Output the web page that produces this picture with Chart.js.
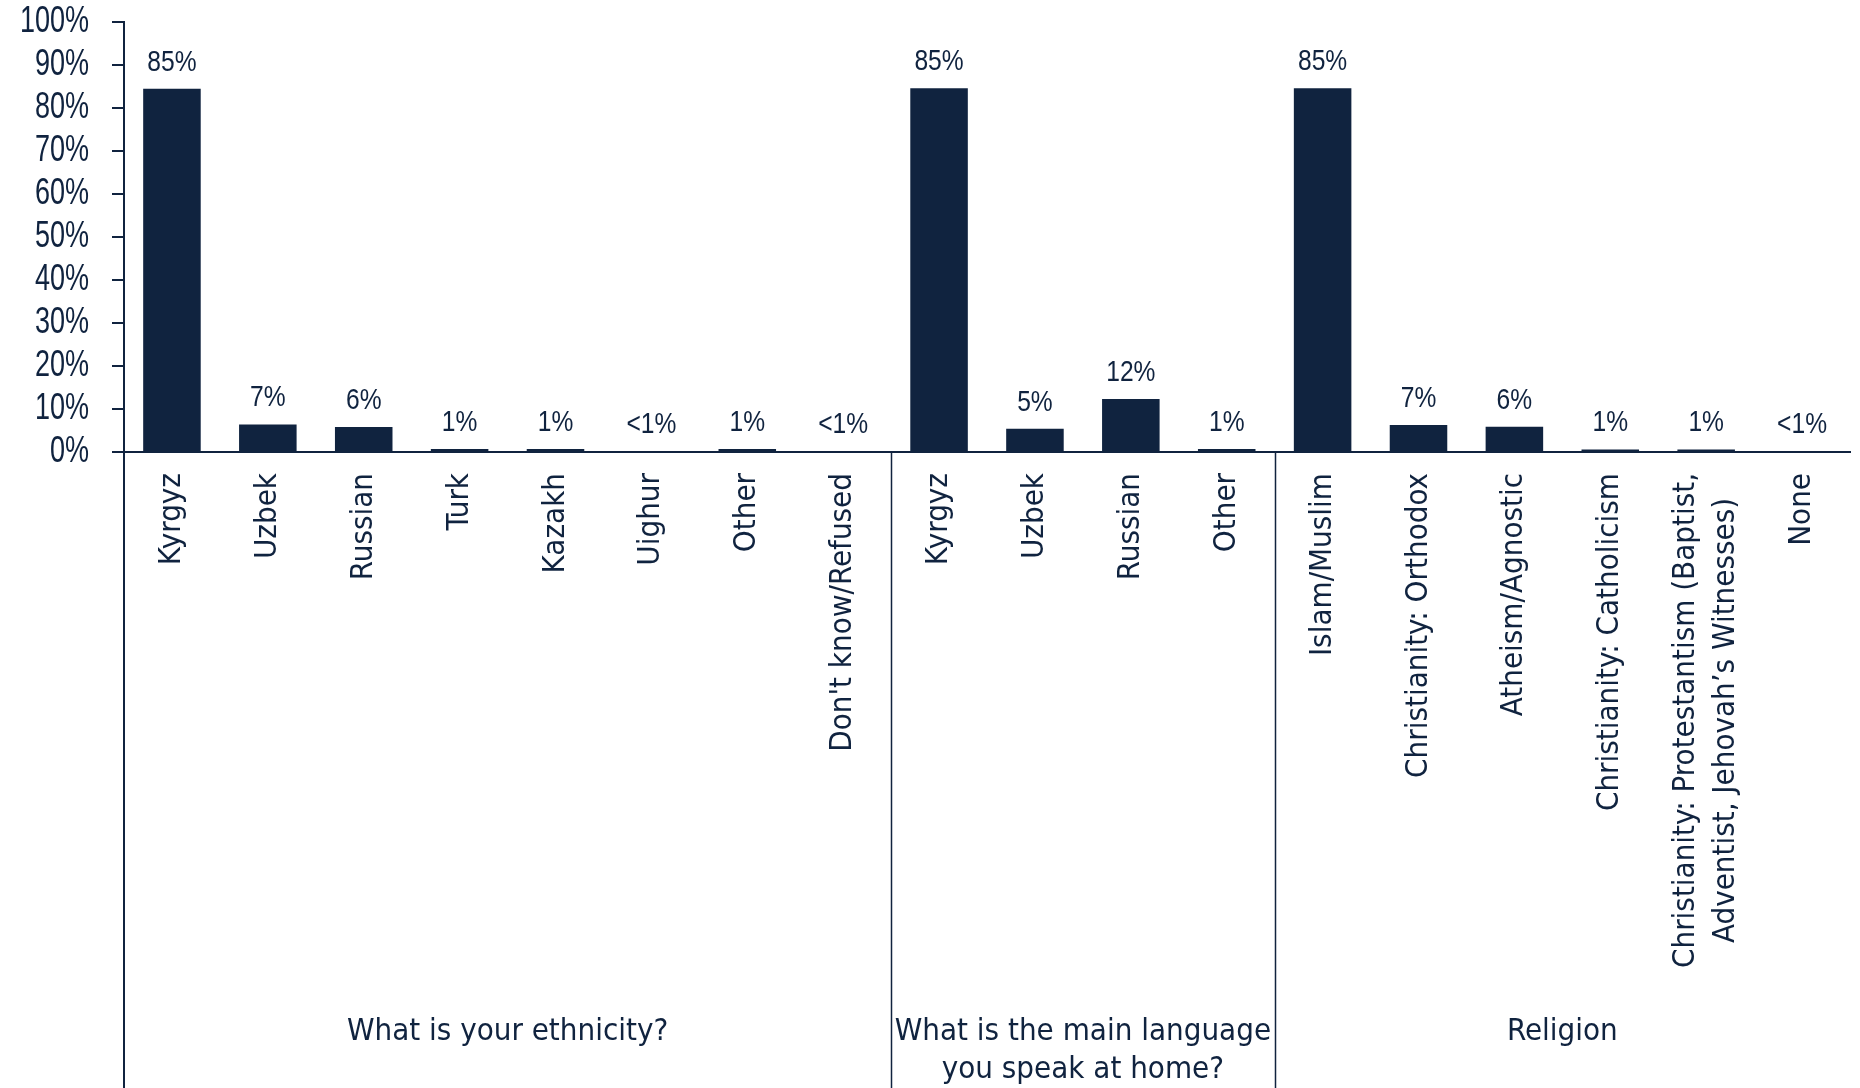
<!DOCTYPE html>
<html>
<head>
<meta charset="utf-8">
<script src="https://cdn.jsdelivr.net/npm/chart.js@4.4.0/dist/chart.umd.min.js"></script>
<style>
  html, body { margin: 0; background: #fff; }
  #wrap { width: 1860px; height: 1088px; position: relative; }
</style>
</head>
<body>
<div id="wrap"><canvas id="chart"></canvas></div>
<script>
// categories, in the order they stand on the axis (three question groups)
const categories = [
  'Kyrgyz', 'Uzbek', 'Russian', 'Turk', 'Kazakh', 'Uighur', 'Other', "Don't know/Refused",
  'Kyrgyz', 'Uzbek', 'Russian', 'Other',
  'Islam/Muslim', 'Christianity: Orthodox', 'Atheism/Agnostic', 'Christianity: Catholicism',
  ['Christianity: Protestantism (Baptist,', 'Adventist, Jehovah\u2019s Witnesses)'], 'None'
];
// bar heights in %
const values = [
  84.5, 6.4, 5.8, 0.7, 0.7, 0.2, 0.7, 0.2,
  84.6, 5.4, 12.3, 0.7,
  84.6, 6.3, 5.9, 0.6, 0.6, 0.2
];
// printed labels above the bars
const valueLabels = [
  '85%', '7%', '6%', '1%', '1%', '<1%', '1%', '<1%',
  '85%', '5%', '12%', '1%',
  '85%', '7%', '6%', '1%', '1%', '<1%'
];
const groupNames = [
  ['What is your ethnicity?'],
  ['What is the main language', 'you speak at home?'],
  ['Religion']
];
const groupSizes = [8, 4, 6];

const NAVY = '#10233f';
const SANS = '"Liberation Sans", Arial, sans-serif';
const COND = '"DejaVu Sans Condensed", "DejaVu Sans", sans-serif';

// narrow numerals: Liberation Sans squeezed horizontally
function narrowText(ctx, text, x, y, size, squeeze, align, baseline) {
  ctx.save();
  ctx.translate(x, y);
  ctx.scale(squeeze, 1);
  ctx.font = size + 'px ' + SANS;
  ctx.textAlign = align;
  ctx.textBaseline = baseline;
  ctx.fillText(text, 0, 0);
  ctx.restore();
}

// y tick labels, value labels, rotated category names, group separators and titles
const surveyLabels = {
  id: 'surveyLabels',
  afterDatasetsDraw(chart) {
    const { ctx, chartArea } = chart;
    const xs = chart.scales.x;
    const ys = chart.scales.y;
    const bars = chart.getDatasetMeta(0).data;
    ctx.save();
    ctx.fillStyle = NAVY;

    ys.ticks.forEach(t =>
      narrowText(ctx, t.value + '%', chartArea.left - 12 - 23, ys.getPixelForValue(t.value), 37, 0.73, 'right', 'middle'));

    bars.forEach((bar, i) => narrowText(ctx, valueLabels[i], bar.x, bar.y - 18, 30, 0.82, 'center', 'alphabetic'));

    ctx.font = '31px ' + COND;
    categories.forEach((c, i) => {
      const lines = Array.isArray(c) ? c : [c];
      const w = Math.max(...lines.map(l => ctx.measureText(l).width));
      ctx.save();
      ctx.translate(xs.getPixelForTick(i), chartArea.bottom + 21);
      ctx.rotate(-Math.PI / 2);
      ctx.textAlign = 'center';
      ctx.textBaseline = 'middle';
      lines.forEach((l, j) => ctx.fillText(l, -w / 2, (j - (lines.length - 1) / 2) * 40));
      ctx.restore();
    });

    ctx.strokeStyle = NAVY;
    let start = 0;
    groupSizes.forEach((n, g) => {
      const left = xs.getPixelForValue(start - 0.5);
      const right = xs.getPixelForValue(start + n - 0.5);
      if (g > 0) {
        ctx.lineWidth = 1.5;
        ctx.beginPath();
        ctx.moveTo(Math.round(left) + 0.5, chartArea.bottom);
        ctx.lineTo(Math.round(left) + 0.5, chart.height);
        ctx.stroke();
      } else {
        ctx.lineWidth = 2;
        ctx.beginPath();
        ctx.moveTo(chartArea.left, chartArea.bottom);
        ctx.lineTo(chartArea.left, chart.height);
        ctx.stroke();
      }
      ctx.font = '31px ' + COND;
      ctx.textAlign = 'center';
      ctx.textBaseline = 'middle';
      groupNames[g].forEach((l, j) => ctx.fillText(l, (left + right) / 2, 1032 + j * 38));
      start += n;
    });
    ctx.restore();
  }
};

new Chart(document.getElementById('chart'), {
  type: 'bar',
  data: {
    labels: categories.map(c => Array.isArray(c) ? c.join(' ') : c),
    datasets: [{
      data: values,
      backgroundColor: NAVY,
      barPercentage: 0.6,
      categoryPercentage: 1
    }]
  },
  options: {
    responsive: true,
    maintainAspectRatio: false,
    animation: false,
    layout: { padding: { top: 22, right: 10, left: 0, bottom: 0 } },
    plugins: { legend: { display: false }, tooltip: { enabled: false } },
    scales: {
      x: {
        grid: { display: false },
        border: { display: true, color: NAVY, width: 2 },
        ticks: { display: false },
        afterFit: s => { s.height = 1088 - 452; }
      },
      y: {
        min: 0,
        max: 100,
        ticks: { display: false, autoSkip: false, stepSize: 10 },
        grid: { drawOnChartArea: false, drawTicks: true, tickLength: 12, color: NAVY, lineWidth: 2 },
        border: { display: true, color: NAVY, width: 2 },
        afterFit: s => { s.width = 124; s.paddingTop = 0; s.paddingBottom = 0; }
      }
    }
  },
  plugins: [surveyLabels]
});
</script>
</body>
</html>
